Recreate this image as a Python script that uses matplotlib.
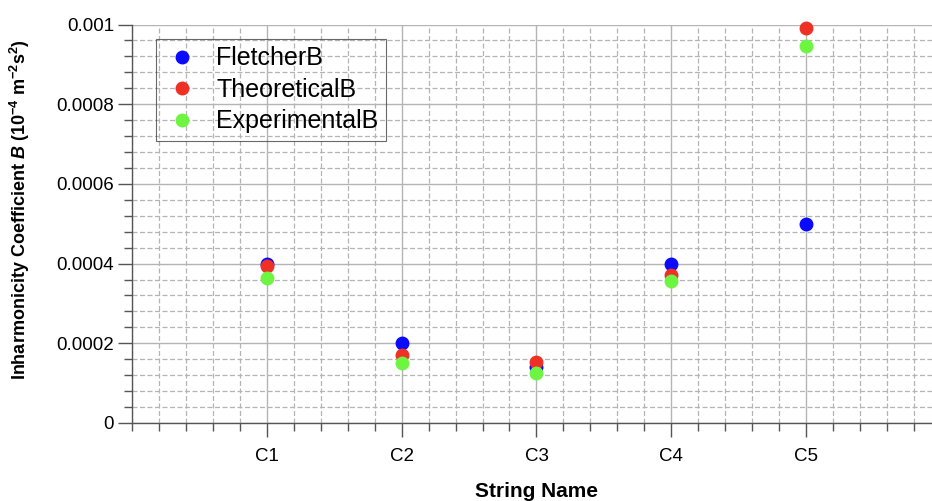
import numpy as np
import matplotlib.pyplot as plt
from matplotlib.ticker import MultipleLocator, FuncFormatter

# data
strings = ["C1", "C2", "C3", "C4", "C5"]
fletcher_b = [0.00040, 0.00020, 0.000141, 0.00040, 0.00050]
theoretical_b = [0.000394, 0.000171, 0.000152, 0.000372, 0.000992]
experimental_b = [0.000365, 0.000150, 0.000126, 0.000357, 0.000945]

plt.rcParams['font.family'] = ['Liberation Sans', 'DejaVu Sans']
plt.rcParams['mathtext.fontset'] = 'custom'
plt.rcParams['mathtext.rm'] = 'Liberation Sans:bold'
plt.rcParams['mathtext.bf'] = 'Liberation Sans:bold:italic'

fig = plt.figure(figsize=(9.32, 5.01), dpi=100)
ax = fig.add_axes([0.1416, 0.1557, 0.868, 0.7953])

x = np.arange(1, len(strings) + 1)
ax.plot(x, fletcher_b, 'o', color='#0a0aff', ms=9, label='FletcherB', clip_on=False, zorder=3)
ax.plot(x, theoretical_b, 'o', color='#ee3124', ms=9, label='TheoreticalB', clip_on=False, zorder=3)
ax.plot(x, experimental_b, 'o', color='#6ef542', ms=9, label='ExperimentalB', clip_on=False, zorder=3)

ax.set_xlim(0, 6)
ax.set_ylim(0, 0.001)
ax.set_xticks(x)
ax.set_xticklabels(strings)
ax.xaxis.set_minor_locator(MultipleLocator(0.2))
ax.yaxis.set_major_locator(MultipleLocator(0.0002))
ax.yaxis.set_minor_locator(MultipleLocator(0.00004))
ax.yaxis.set_major_formatter(FuncFormatter(lambda v, p: '%g' % round(v, 6)))

ax.grid(which='major', color='#b4b4b4', linestyle='-', linewidth=1.0)
ax.grid(which='minor', color='#b4b4b4', linestyle=(0, (4, 2)), linewidth=0.9)
ax.set_axisbelow(True)

for s in ['top', 'right']:
    ax.spines[s].set_visible(False)
for s in ['left', 'bottom']:
    ax.spines[s].set_color('#555555')
    ax.spines[s].set_linewidth(1.0)

ax.tick_params(which='major', length=10, width=1, color='#555555', labelsize=13.5, pad=3)
ax.tick_params(which='minor', length=6, width=1, color='#555555')
ax.tick_params(axis='x', which='major', length=10, pad=8)

ax.set_ylabel(r'Inharmonicity Coefficient $\mathbf{B}$ (10$^{-4}$ m$^{-2}$s$^{2}$)',
              fontsize=13, fontweight='bold')
ax.yaxis.set_label_coords(-0.123, 0.535)
ax.set_xlabel('String Name', fontsize=15, fontweight='bold', labelpad=12)

leg = ax.legend(loc='upper left', bbox_to_anchor=(0.03, 0.964), borderaxespad=0,
                fontsize=18, frameon=True, fancybox=False, facecolor='none',
                edgecolor='#444444', handletextpad=0.6, labelspacing=0.3,
                borderpad=0.3, handlelength=1.5)
leg.get_frame().set_linewidth(0.8)

fig.savefig('out.png', dpi=100)
